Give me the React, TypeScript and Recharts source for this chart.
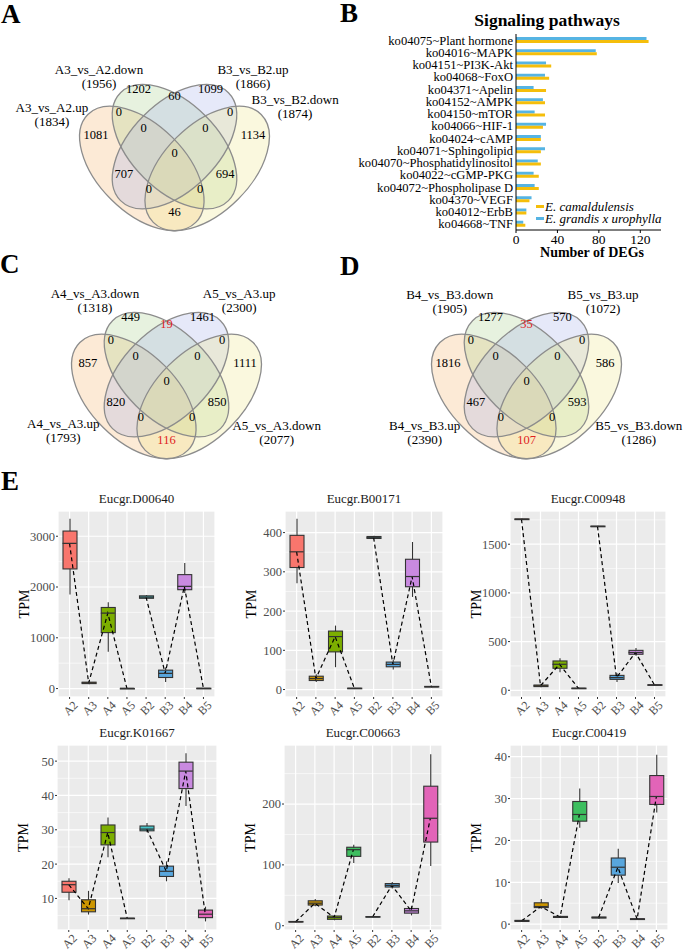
import React from "react";
import {
  BarChart,
  Bar,
  XAxis,
  YAxis,
  Legend,
  ScatterChart,
  Scatter,
  ComposedChart,
  Line,
  CartesianGrid,
} from "recharts";

const FONT = "'Liberation Serif', 'Times New Roman', serif";

// ---------- B: signaling pathways ----------
const pathways = [
  "ko04075~Plant hormone",
  "ko04016~MAPK",
  "ko04151~PI3K-Akt",
  "ko04068~FoxO",
  "ko04371~Apelin",
  "ko04152~AMPK",
  "ko04150~mTOR",
  "ko04066~HIF-1",
  "ko04024~cAMP",
  "ko04071~Sphingolipid",
  "ko04070~Phosphatidylinositol",
  "ko04022~cGMP-PKG",
  "ko04072~Phospholipase D",
  "ko04370~VEGF",
  "ko04012~ErbB",
  "ko04668~TNF",
];
const camaldulensis = [128, 78, 34, 32, 29, 28, 28, 26, 24, 24, 24, 22, 22, 13, 10, 9];
const grandisUrophylla = [126, 77, 29, 28, 17, 26, 18, 29, 24, 28, 21, 17, 18, 15, 10, 7];
const degTicks = [0, 40, 80, 120];
const YELLOW = "#f5be0b";
const BLUE = "#56b4e3";

// ---------- Venn diagrams ----------
// region order: o, g, b, y, og, ob, oy, gb, gy, by, ogb, ogy, oby, gby, ogby
const vennASets = ["A3_vs_A2.up", "A3_vs_A2.down", "B3_vs_B2.up", "B3_vs_B2.down"];
const vennATotals = [1834, 1956, 1866, 1874];
const vennACounts = [1081, 1202, 1099, 1134, 0, 707, 46, 60, 694, 0, 0, 0, 0, 0, 0];

const vennCSets = ["A4_vs_A3.up", "A4_vs_A3.down", "A5_vs_A3.up", "A5_vs_A3.down"];
const vennCTotals = [1793, 1318, 2300, 2077];
const vennCCounts = [857, 449, 1461, 1111, 0, 820, 116, 19, 850, 0, 0, 0, 0, 0, 0];

const vennDSets = ["B4_vs_B3.up", "B4_vs_B3.down", "B5_vs_B3.up", "B5_vs_B3.down"];
const vennDTotals = [2390, 1905, 1072, 1286];
const vennDCounts = [1816, 1277, 570, 586, 0, 467, 107, 35, 593, 0, 0, 0, 0, 0, 0];

// regions written in red (C and D only)
const redRegions = [6, 7];

// layout of the 4-set venn in unit coordinates
const VENN_UNIT = 218;
const vennEllipses = [
  { angle: 45, fill: "#f6b26b" },
  { angle: 45, fill: "#a8d08d" },
  { angle: -45, fill: "#a4b0e8" },
  { angle: -45, fill: "#eee58a" },
];
const vennEllipseCenters = [
  [0.35, 0.47],
  [0.5, 0.57],
  [0.5, 0.57],
  [0.65, 0.47],
];
const vennRegionPos = [
  [0.14, 0.625], [0.335, 0.835], [0.665, 0.835], [0.86, 0.625],
  [0.245, 0.728], [0.268, 0.445], [0.5, 0.27], [0.5, 0.8],
  [0.732, 0.445], [0.755, 0.728], [0.358, 0.656], [0.617, 0.376],
  [0.383, 0.376], [0.642, 0.656], [0.5, 0.541],
];
const vennALabelPos = [[-0.062, 0.748], [0.154, 0.922], [0.86, 0.922], [1.053, 0.784]];
const vennCLabelPos = [[0.027, 0.347], [0.172, 0.944], [0.833, 0.944], [1.005, 0.339]];
const vennDLabelPos = [[0.033, 0.339], [0.148, 0.936], [0.851, 0.936], [1.015, 0.339]];

// ---------- E: boxplots ----------
const groups = ["A2", "A3", "A4", "A5", "B2", "B3", "B4", "B5"];
const boxColors = ["#f8766d", "#cd9600", "#7cae00", "#3dbe5f", "#45c3c8", "#58a6dd", "#c98ae0", "#e264b8"];

// [min, q1, median, q3, max]
const d00640 = [
  [1854, 2356, 2858, 3102, 3346],
  [86, 98, 112, 126, 139],
  [726, 1102, 1485, 1597, 1700],
  [0, 1, 2, 3, 5],
  [1762, 1778, 1802, 1826, 1842],
  [130, 218, 300, 363, 416],
  [1881, 1947, 2013, 2244, 2475],
  [3, 4, 5, 6, 8],
];
const b00171 = [
  [271, 311, 351, 393, 435],
  [19, 23, 28, 34, 39],
  [57, 96, 135, 149, 163],
  [1.5, 2.5, 3, 3.5, 4.5],
  [383, 385, 387, 390, 392],
  [51, 58, 64, 70, 75],
  [236, 262, 288, 332, 376],
  [5.5, 6.5, 7, 8, 8.5],
];
const c00948 = [
  [1748, 1752, 1756, 1760, 1764],
  [30, 38, 46, 54, 60],
  [185, 226, 267, 301, 330],
  [14, 17, 20, 22, 26],
  [1676, 1679, 1683, 1686, 1690],
  [85, 112, 130, 153, 175],
  [355, 370, 388, 410, 435],
  [48, 51, 54, 57, 60],
];
const k01667 = [
  [9.5, 11.8, 14.0, 15.0, 15.9],
  [5.3, 6.1, 7.0, 9.6, 12.2],
  [22.0, 25.6, 29.2, 31.4, 33.6],
  [4.1, 4.15, 4.2, 4.25, 4.3],
  [29.3, 29.7, 30.2, 31.1, 32.0],
  [15.0, 16.4, 17.9, 19.4, 20.8],
  [36.9, 42.0, 47.1, 49.7, 52.3],
  [3.3, 4.4, 5.4, 6.6, 7.6],
];
const c00663 = [
  [5.5, 6, 6.5, 7, 7.5],
  [32, 34, 37, 41, 44],
  [9, 10.5, 13.5, 16, 18],
  [103, 114, 125, 129, 133],
  [14, 14.3, 14.7, 15, 15.3],
  [61, 63.6, 66.3, 69.3, 72],
  [17, 20.7, 24.5, 28.3, 32],
  [98, 137.5, 176.6, 229.3, 282],
];
const c00419 = [
  [0.5, 0.65, 0.8, 0.9, 1.0],
  [3.7, 3.95, 4.2, 5.1, 6.0],
  [1.5, 1.6, 1.7, 1.85, 2.0],
  [23.0, 24.6, 26.2, 29.3, 32.4],
  [1.3, 1.45, 1.6, 1.7, 1.8],
  [9.8, 11.7, 13.6, 15.8, 18.0],
  [1.0, 1.1, 1.2, 1.3, 1.4],
  [26.7, 28.6, 30.5, 35.5, 40.5],
];

const genePanels = [
  { title: "Eucgr.D00640", stats: d00640, plot: [58, 215, 511, 697], domain: [-166, 3497], ticks: [0, 1000, 2000, 3000], minor: [500, 1500, 2500] },
  { title: "Eucgr.B00171", stats: b00171, plot: [285, 443, 511, 697], domain: [-19, 455], ticks: [0, 100, 200, 300, 400], minor: [50, 150, 250, 350] },
  { title: "Eucgr.C00948", stats: c00948, plot: [510, 666, 511, 697], domain: [-69, 1841], ticks: [0, 500, 1000, 1500], minor: [250, 750, 1250, 1750] },
  { title: "Eucgr.K01667", stats: k01667, plot: [57, 217, 745, 930], domain: [0.8, 54.7], ticks: [10, 20, 30, 40, 50], minor: [5, 15, 25, 35, 45] },
  { title: "Eucgr.C00663", stats: c00663, plot: [284, 442, 745, 930], domain: [-7, 297], ticks: [0, 100, 200], minor: [50, 150, 250] },
  { title: "Eucgr.C00419", stats: c00419, plot: [510, 668, 745, 930], domain: [-1.4, 42.8], ticks: [0, 10, 20, 30, 40], minor: [5, 15, 25, 35] },
];

// ---------- Venn ----------
const VENN_W = 349;
const VENN_H = 240;

function Venn({ left, top, sets, totals, counts, labelPos, red }: any) {
  const ellipseData = vennEllipseCenters.map((c, i) => ({ u: c[0], v: c[1], k: i }));
  const countData = counts.map((c: number, i: number) => ({ u: vennRegionPos[i][0], v: vennRegionPos[i][1], count: c, region: i }));
  const labelData = sets.map((s: string, i: number) => ({ u: labelPos[i][0], v: labelPos[i][1], name: s, total: totals[i] }));
  const rx = 0.35 * VENN_UNIT;
  const ry = 0.2 * VENN_UNIT;
  return (
    <div style={{ position: "absolute", left, top }}>
      <ScatterChart width={VENN_W} height={VENN_H} margin={{ top: 0, right: 0, bottom: 0, left: 0 }}>
        <XAxis type="number" dataKey="u" domain={[-0.3, 1.3]} allowDataOverflow hide />
        <YAxis type="number" dataKey="v" domain={[0, 1.1]} allowDataOverflow hide />
        <Scatter
          data={ellipseData}
          isAnimationActive={false}
          shape={(p: any) => {
            const e = vennEllipses[p.payload.k];
            return (
              <ellipse cx={p.cx} cy={p.cy} rx={rx} ry={ry} transform={`rotate(${e.angle} ${p.cx} ${p.cy})`} fill={e.fill} fillOpacity={0.28} stroke="none" />
            );
          }}
        />
        <Scatter
          data={ellipseData}
          isAnimationActive={false}
          shape={(p: any) => {
            const e = vennEllipses[p.payload.k];
            return (
              <ellipse cx={p.cx} cy={p.cy} rx={rx} ry={ry} transform={`rotate(${e.angle} ${p.cx} ${p.cy})`} fill="none" stroke="#8c8c8c" strokeWidth={1.3} />
            );
          }}
        />
        <Scatter
          data={countData}
          isAnimationActive={false}
          shape={(p: any) => (
            <text x={p.cx} y={p.cy} textAnchor="middle" dominantBaseline="central" fontSize={12.5} fontFamily={FONT} fill={red && redRegions.includes(p.payload.region) ? "#e0211d" : "#000"}>
              {p.payload.count}
            </text>
          )}
        />
        <Scatter
          data={labelData}
          isAnimationActive={false}
          shape={(p: any) => (
            <g>
              <text x={p.cx} y={p.cy} textAnchor="middle" dominantBaseline="central" fontSize={13} fontFamily={FONT} fill="#000">
                {p.payload.name}
              </text>
              <text x={p.cx} y={p.cy + 14} textAnchor="middle" dominantBaseline="central" fontSize={13} fontFamily={FONT} fill="#000">
                ({p.payload.total})
              </text>
            </g>
          )}
        />
      </ScatterChart>
    </div>
  );
}

// ---------- B chart ----------
function PathwayChart() {
  const rows = pathways.map((p, i) => ({ pathway: p, cam: camaldulensis[i], gu: grandisUrophylla[i] }));
  const legendItems = [
    { name: "E. camaldulensis", color: YELLOW },
    { name: "E. grandis x urophylla", color: BLUE },
  ];
  return (
    <div style={{ position: "absolute", left: 340, top: 0 }}>
      <BarChart layout="vertical" width={340} height={262} data={rows} margin={{ top: 34, right: 19, bottom: 0, left: 0 }} barSize={3} barGap={0}>
        <XAxis
          type="number"
          domain={[0, 140]}
          ticks={degTicks}
          allowDataOverflow
          height={32}
          axisLine={{ stroke: "#000" }}
          tickLine={{ stroke: "#000" }}
          tickSize={3}
          tickMargin={1}
          tick={{ fontSize: 13.5, fill: "#000", fontFamily: FONT }}
        />
        <YAxis
          type="category"
          dataKey="pathway"
          width={176}
          interval={0}
          axisLine={{ stroke: "#000" }}
          tickLine={false}
          tickSize={0}
          tickMargin={3}
          tick={{ fontSize: 12.6, fill: "#000", fontFamily: FONT }}
        />
        <Bar dataKey="gu" name="E. grandis x urophylla" fill={BLUE} isAnimationActive={false} />
        <Bar dataKey="cam" name="E. camaldulensis" fill={YELLOW} isAnimationActive={false} />
        <Legend
          layout="vertical"
          align="center"
          verticalAlign="middle"
          wrapperStyle={{ position: "absolute", left: 196, top: 201, width: 150, height: 26 }}
          content={() => (
            <div style={{ fontFamily: FONT, fontStyle: "italic", fontSize: 13, lineHeight: "11.6px" }}>
              {legendItems.map((it) => (
                <div key={it.name} style={{ display: "flex", alignItems: "center", height: 11.6 }}>
                  <span style={{ display: "inline-block", width: 8, height: 3, background: it.color, marginRight: 1 }} />
                  <span>{it.name}</span>
                </div>
              ))}
            </div>
          )}
        />
      </BarChart>
    </div>
  );
}

// ---------- E panels ----------
const Y_W = 58;
const M_T = 26;
const M_R = 10;
const X_H = 38;
const BOX_W = 14;

const WhiskerShape = (p: any) => {
  const x = p.x + p.width / 2;
  return <line x1={x} x2={x} y1={p.y} y2={p.y + p.height} stroke="#333" strokeWidth={1.1} />;
};
const BoxShape = (p: any) => {
  const i = groups.indexOf(p.payload.group);
  const y = Math.min(p.y, p.y + p.height);
  const h = Math.max(Math.abs(p.height), 0.6);
  return <rect x={p.x} y={y} width={p.width} height={h} fill={boxColors[i]} stroke="#333" strokeWidth={1.1} />;
};
const MedianShape = (p: any) => (
  <line x1={p.cx - BOX_W / 2} x2={p.cx + BOX_W / 2} y1={p.cy} y2={p.cy} stroke="#333" strokeWidth={1.2} />
);
const GroupTick = (p: any) => (
  <text
    transform={`translate(${p.x + 3},${p.y - 1}) rotate(-45)`}
    textAnchor="end"
    dy="0.7em"
    fontSize={12}
    fill="#4d4d4d"
    fontFamily={FONT}
  >
    {p.payload.value}
  </text>
);

function GenePanel({ stats, plot, domain, ticks, minor }: any) {
  const rows = groups.map((g, i) => ({
    group: g,
    whisker: [stats[i][0], stats[i][4]],
    box: [stats[i][1], stats[i][3]],
    median: stats[i][2],
    lineA: g[0] === "A" ? stats[i][2] : null,
    lineB: g[0] === "B" ? stats[i][2] : null,
  }));
  const [x0, x1, y0, y1] = plot;
  const width = x1 - x0 + Y_W + M_R;
  const height = M_T + (y1 - y0) + X_H;
  const tickStyle = { fontSize: 12.5, fill: "#4d4d4d", fontFamily: FONT };
  return (
    <div style={{ position: "absolute", left: x0 - Y_W, top: y0 - M_T }}>
      <ComposedChart width={width} height={height} data={rows} margin={{ top: M_T, right: M_R, bottom: 0, left: 0 }}>
        <XAxis xAxisId="w" dataKey="group" type="category" orientation="top" height={0} padding={{ left: 2, right: 2 }} hide />
        <XAxis
          xAxisId="x"
          dataKey="group"
          type="category"
          padding={{ left: 2, right: 2 }}
          height={X_H}
          interval={0}
          axisLine={false}
          tickLine={{ stroke: "#333" }}
          tickSize={2}
          tickMargin={2}
          tick={GroupTick}
        />
        <YAxis
          domain={domain}
          ticks={ticks}
          allowDataOverflow
          width={Y_W}
          interval={0}
          axisLine={false}
          tickLine={{ stroke: "#333" }}
          tickSize={2}
          tickMargin={1}
          tick={tickStyle}
        />
        <YAxis yAxisId="minor" domain={domain} ticks={minor} allowDataOverflow hide />
        <CartesianGrid xAxisId="x" yAxisId="minor" vertical={false} stroke="#fff" strokeWidth={0.6} fill="#ebebeb" fillOpacity={1} />
        <CartesianGrid xAxisId="x" stroke="#fff" strokeWidth={1.2} />
        <Bar xAxisId="w" dataKey="whisker" barSize={BOX_W} shape={WhiskerShape} isAnimationActive={false} />
        <Bar xAxisId="x" dataKey="box" barSize={BOX_W} shape={BoxShape} isAnimationActive={false} />
        <Scatter xAxisId="x" dataKey="median" shape={MedianShape} isAnimationActive={false} />
        <Line xAxisId="x" dataKey="lineA" stroke="#000" strokeWidth={1.2} strokeDasharray="4 3" dot={false} activeDot={false} connectNulls={false} isAnimationActive={false} />
        <Line xAxisId="x" dataKey="lineB" stroke="#000" strokeWidth={1.2} strokeDasharray="4 3" dot={false} activeDot={false} connectNulls={false} isAnimationActive={false} />
      </ComposedChart>
    </div>
  );
}

export default function App() {
  return (
    <div style={{ position: "absolute", left: 0, top: 0, width: 685, height: 952, overflow: "hidden", background: "#fff" }}>
      <Venn left={0} top={31} sets={vennASets} totals={vennATotals} counts={vennACounts} labelPos={vennALabelPos} red={false} />
      <Venn left={-8} top={259} sets={vennCSets} totals={vennCTotals} counts={vennCCounts} labelPos={vennCLabelPos} red />
      <Venn left={351.6} top={259} sets={vennDSets} totals={vennDTotals} counts={vennDCounts} labelPos={vennDLabelPos} red />
      <PathwayChart />
      {genePanels.map((g) => (
        <GenePanel key={g.title} {...g} />
      ))}
      <svg width={685} height={952} style={{ position: "absolute", left: 0, top: 0, pointerEvents: "none" }}>
        <g fontFamily={FONT} fontWeight="bold" fontSize={27} fill="#000">
          <text x={1} y={23}>A</text>
          <text x={340} y={22}>B</text>
          <text x={0} y={273}>C</text>
          <text x={340} y={275}>D</text>
          <text x={1} y={490}>E</text>
        </g>
        <text x={547} y={26} textAnchor="middle" fontFamily={FONT} fontWeight="bold" fontSize={17.5}>
          Signaling pathways
        </text>
        <text x={592} y={257} textAnchor="middle" fontFamily={FONT} fontWeight="bold" fontSize={14}>
          Number of DEGs
        </text>
        {genePanels.map((g) => {
          const [x0, x1, y0, y1] = g.plot;
          const cy = (y0 + y1) / 2;
          return (
            <g key={g.title} fontFamily={FONT}>
              <text x={(x0 + x1) / 2} y={y0 - 8.5} textAnchor="middle" fontSize={13} fill="#1a1a1a">
                {g.title}
              </text>
              <text x={x0 - 34} y={cy} textAnchor="middle" dominantBaseline="central" fontSize={14} fill="#000" transform={`rotate(-90 ${x0 - 34} ${cy})`}>
                TPM
              </text>
            </g>
          );
        })}
      </svg>
    </div>
  );
}
